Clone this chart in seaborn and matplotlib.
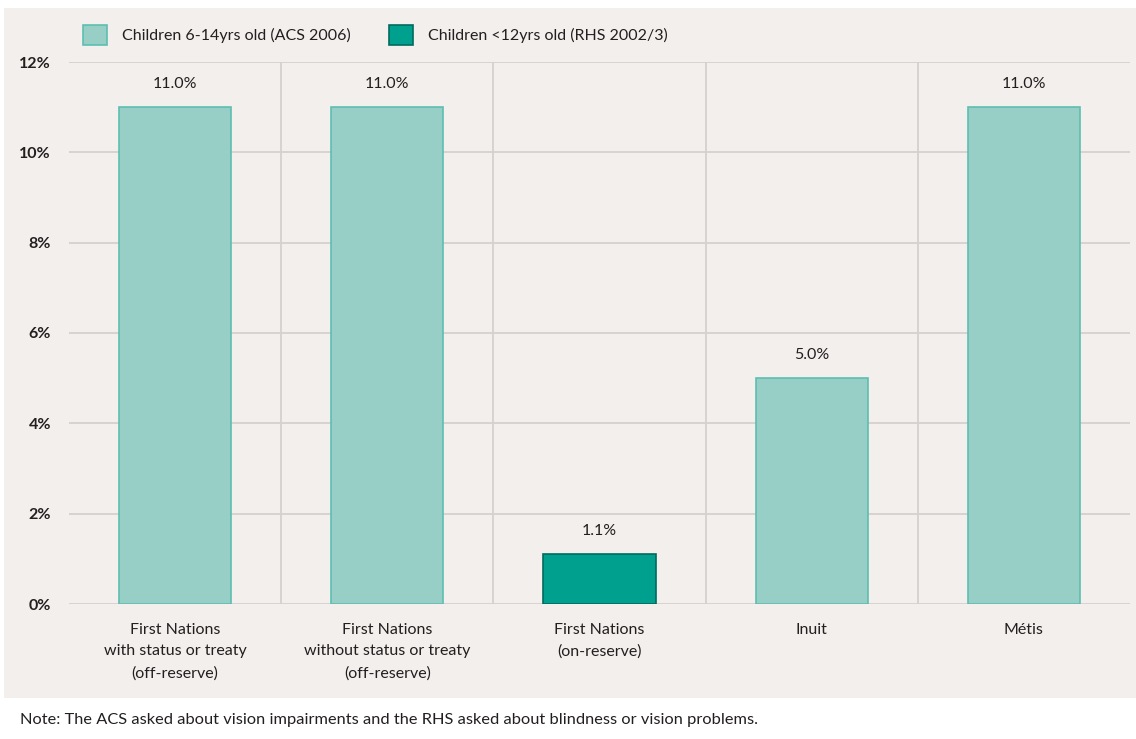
import pandas as pd
import numpy as np
import matplotlib.pyplot as plt
from matplotlib.patches import Rectangle
import seaborn as sns

# Chart data
groups = [
    "First Nations\nwith status or treaty\n(off-reserve)",
    "First Nations\nwithout status or treaty\n(off-reserve)",
    "First Nations\n(on-reserve)",
    "Inuit",
    "Métis",
]
series_names = ["Children 6-14yrs old (ACS 2006)", "Children <12yrs old (RHS 2002/3)"]
group_series = [series_names[0], series_names[0], series_names[1], series_names[0], series_names[0]]
values = [11.0, 11.0, 1.1, 5.0, 11.0]
y_ticks = [0, 2, 4, 6, 8, 10, 12]
note = "Note: The ACS asked about vision impairments and the RHS asked about blindness or vision problems."

data = pd.DataFrame({"group": groups, "series": group_series, "value": values})

sns.set_style("white")
plt.rcParams["font.family"] = ["Lato", "DejaVu Sans"]

panel = "#f3efec"
grid_c = "#d6d1cd"
text_c = "#231f20"
fill = {series_names[0]: "#97cfc6", series_names[1]: "#00a08f"}
edge = {series_names[0]: "#5dbfb1", series_names[1]: "#006b5e"}

fig = plt.figure(figsize=(11.36, 7.39), dpi=100, facecolor="white")
fig.patches.append(Rectangle((4 / 1136, 41 / 739), 1 - 4 / 1136, 690 / 739,
                             transform=fig.transFigure, facecolor=panel,
                             edgecolor="none", zorder=-10))
ax = fig.add_axes([69 / 1136, 135 / 739, 1061 / 1136, 542 / 739])
ax.set_facecolor("none")

sns.barplot(data=data, x="group", y="value", hue="series", hue_order=series_names,
            palette=fill, saturation=1, dodge=False, width=0.528, ax=ax, zorder=3)

for cont, name in zip(ax.containers, series_names):
    for bar in cont:
        bar.set_edgecolor(edge[name])
        bar.set_linewidth(1.2)
    ax.bar_label(cont, fmt="{:.1f}%", padding=11.5, fontsize=11.5, color=text_c)

ax.set_ylim(0, 12)
ax.set_xlim(-0.5, 4.5)
ax.set_yticks(y_ticks)
ax.set_yticklabels([f"{t}%" for t in y_ticks], fontweight="bold", fontsize=11.5, color=text_c)
ax.tick_params(axis="y", length=0, pad=13)
ax.tick_params(axis="x", length=0, pad=13.5, labelsize=11.5, labelcolor=text_c)
for lab in ax.get_xticklabels():
    lab.set_linespacing(1.68)
ax.set_xlabel("")
ax.set_ylabel("")
ax.yaxis.grid(True, color=grid_c, lw=1.3, zorder=0)
ax.vlines([0.5, 1.5, 2.5, 3.5], 0, 12, color=grid_c, lw=1.3, zorder=0)
sns.despine(ax=ax, left=True, bottom=True)

leg = ax.get_legend()
handles = leg.legend_handles
leg.remove()
for h, name in zip(handles, series_names):
    h.set_facecolor(fill[name])
    h.set_edgecolor(edge[name])
    h.set_linewidth(1.2)
fig.legend(handles, series_names, loc="center left", bbox_to_anchor=(83 / 1136, 1 - 35 / 739),
           ncol=2, frameon=False, fontsize=11.5, handlelength=1.5, handleheight=1.5,
           handletextpad=0.94, columnspacing=2.4, borderpad=0, borderaxespad=0,
           labelcolor=text_c)

fig.text(20 / 1136, 1 - 720 / 739, note, fontsize=11.8, color=text_c, va="center", ha="left")

plt.savefig("out.png", dpi=100, facecolor="white")
